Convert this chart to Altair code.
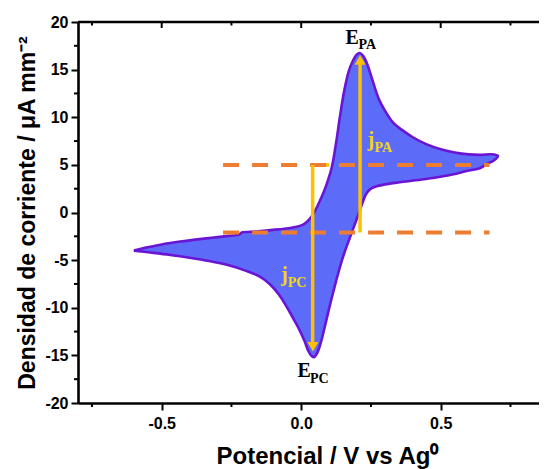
import altair as alt
import pandas as pd

# ---------------- data ----------------
# forward (anodic) scan, -0.6 V -> 0.7 V
fwd_v = [-0.600, -0.560, -0.500, -0.440, -0.380, -0.320, -0.260, -0.222, -0.214,
         -0.160, -0.110, -0.060, -0.020, 0.005, 0.020, 0.035, 0.050, 0.065, 0.080,
         0.095, 0.110, 0.125, 0.140, 0.155, 0.170, 0.185, 0.198, 0.210, 0.222,
         0.235, 0.250, 0.265, 0.280, 0.300, 0.330, 0.360, 0.400, 0.450, 0.500,
         0.550, 0.600, 0.645, 0.680, 0.705]
fwd_j = [-4.00, -3.70, -3.35, -3.08, -2.85, -2.65, -2.45, -2.32, -2.12,
         -2.00, -1.85, -1.70, -1.52, -1.30, -1.00, -0.50, 0.20, 1.10, 2.10,
         3.30, 4.80, 7.30, 10.30, 12.90, 14.80, 15.90, 16.55, 16.75, 16.45,
         15.70, 14.40, 13.00, 11.80, 10.70, 9.40, 8.70, 7.90, 7.15, 6.65,
         6.30, 6.10, 6.05, 6.12, 5.95]
# reverse (cathodic) scan, 0.7 V -> -0.6 V
rev_v = [0.690, 0.670, 0.640, 0.600, 0.520, 0.440, 0.360, 0.300, 0.265, 0.245,
         0.232, 0.222, 0.212, 0.200, 0.185, 0.170, 0.155, 0.140, 0.125, 0.110,
         0.095, 0.082, 0.070, 0.058, 0.045, 0.035, 0.025, 0.012, -0.005, -0.025,
         -0.050, -0.080, -0.115, -0.150, -0.200, -0.260, -0.330, -0.400, -0.470,
         -0.540, -0.600]
rev_j = [5.45, 5.15, 4.65, 4.40, 3.85, 3.50, 3.20, 2.95, 2.70, 2.40,
         1.90, 1.20, 0.40, -0.60, -1.80, -3.00, -4.20, -5.60, -7.20, -8.90,
         -10.70, -12.30, -13.70, -14.70, -15.20, -15.00, -14.50, -13.50, -12.40, -11.30,
         -10.00, -8.60, -7.45, -6.70, -6.10, -5.55, -5.10, -4.75, -4.45,
         -4.20, -4.00]

# dashed reference levels
dash_levels = [5.0, -2.1]
dash_from = [-0.28, -0.28]
dash_to = [0.675, 0.675]

# arrows (j_PC down, j_PA up)
arrow_v = [0.041, 0.211]
arrow_from = [5.0, -2.1]
arrow_to = [-13.8, 15.6]
head_v_up = [0.211]
head_j_up = [16.0]
head_v_down = [0.042]
head_j_down = [-14.1]
stub_v0 = [0.041]
stub_v1 = [0.100]
stub_j = [5.0]

# annotation texts (main letter and subscript)
e_main = ["E", "E"]
e_main_v = [0.159, -0.013]
e_main_j = [17.69, -17.30]
e_sub = ["PA", "PC"]
e_sub_v = [0.2054, 0.0315]
e_sub_j = [17.17, -17.93]
jl_main = ["j", "j"]
jl_main_v = [0.2375, -0.0724]
jl_main_j = [6.98, -7.19]
jl_sub = ["PA", "PC"]
jl_sub_v = [0.2627, -0.048]
jl_sub_j = [6.38, -7.79]

x_major = [-0.5, 0.0, 0.5]
x_minor = [-0.75, -0.25, 0.25, 0.75]
y_major = [-20, -15, -10, -5, 0, 5, 10, 15, 20]
y_minor = [-17.5, -12.5, -7.5, -2.5, 2.5, 7.5, 12.5, 17.5]

X_DOMAIN = [-0.8, 0.8523]
Y_DOMAIN = [-20, 20]

# ---------------- styles ----------------
FILL = "#5c6cf8"
PURPLE = "#6a14d4"
ORANGE = "#ED7D31"
GOLD = "#FFC000"
YELLOW = "#F4D80C"
SANS = "Liberation Sans"
SERIF = "Liberation Serif"

xs = alt.Scale(domain=X_DOMAIN, nice=False, zero=False)
ys = alt.Scale(domain=Y_DOMAIN, nice=False, zero=False)

minus_fix = "replace(datum.label, '\u2212', '-')"

xa = alt.Axis(
    values=x_major, format=".1f", labelExpr=minus_fix, grid=False,
    tickSize=7, tickWidth=2, tickColor="black", domainColor="black", domainWidth=2.6,
    labelFont=SANS, labelFontSize=16, labelFontWeight="bold", labelColor="black",
    labelPadding=5,
    title="Potencial / V vs Ag\u2070", titleFont=SANS, titleFontSize=24,
    titleFontWeight="bold", titleColor="black", titleX=249, titleY=60,
    titleAlign="center", titleBaseline="alphabetic")
ya = alt.Axis(
    values=y_major, labelExpr=minus_fix, grid=False,
    tickSize=7, tickWidth=2, tickColor="black", domainColor="black", domainWidth=2.6,
    labelFont=SANS, labelFontSize=16, labelFontWeight="bold", labelColor="black",
    labelPadding=3,
    title="Densidad de corriente / \u03bcA mm\u207b\u00b2", titleFont=SANS,
    titleFontSize=23, titleFontWeight="bold", titleColor="black",
    titleX=-44, titleY=190.5, titleAlign="center", titleBaseline="alphabetic",
    titleAngle=270)


def X(f):
    return alt.X(f, scale=xs, axis=xa)


def Y(f):
    return alt.Y(f, scale=ys, axis=ya)


loop_df = pd.DataFrame({
    "v": fwd_v + rev_v,
    "j": fwd_j + rev_j,
    "idx": list(range(len(fwd_v) + len(rev_v))),
})

loop = alt.Chart(loop_df).mark_line(
    fill=FILL, stroke=PURPLE, strokeWidth=2.6, interpolate="catmull-rom"
).encode(x=X("v:Q"), y=Y("j:Q"), order="idx:Q")

# frame: top line with inward ticks, minor ticks on left/bottom
top_df = pd.DataFrame({"v": [X_DOMAIN[0]], "v1": [X_DOMAIN[1]], "j": [Y_DOMAIN[1]]})
top_line = alt.Chart(top_df).mark_rule(color="black", strokeWidth=2.6).encode(
    x=X("v:Q"), x2="v1:Q", y=Y("j:Q"))
top_major = alt.Chart(pd.DataFrame({"v": x_major})).mark_rule(color="black", strokeWidth=2).encode(
    x=X("v:Q"), y=alt.value(0), y2=alt.value(6))
top_minor = alt.Chart(pd.DataFrame({"v": x_minor})).mark_rule(color="black", strokeWidth=2).encode(
    x=X("v:Q"), y=alt.value(0), y2=alt.value(3.5))
bot_minor = alt.Chart(pd.DataFrame({"v": x_minor})).mark_rule(color="black", strokeWidth=2).encode(
    x=X("v:Q"), y=alt.value(381), y2=alt.value(385))
left_minor = alt.Chart(pd.DataFrame({"j": y_minor})).mark_rule(color="black", strokeWidth=2).encode(
    y=Y("j:Q"), x=alt.value(0), x2=alt.value(-4))

stub = alt.Chart(pd.DataFrame({"v": stub_v0, "v1": stub_v1, "j": stub_j})).mark_rule(
    color=GOLD, strokeWidth=3.5).encode(x=X("v:Q"), x2="v1:Q", y=Y("j:Q"))

dashes = alt.Chart(pd.DataFrame({"v": dash_from, "v1": dash_to, "j": dash_levels})).mark_rule(
    color=ORANGE, strokeWidth=4, strokeDash=[16, 13]).encode(x=X("v:Q"), x2="v1:Q", y=Y("j:Q"))

arrows = alt.Chart(pd.DataFrame({"v": arrow_v, "j": arrow_from, "j1": arrow_to})).mark_rule(
    color=GOLD, strokeWidth=3.5).encode(x=X("v:Q"), y=Y("j:Q"), y2="j1:Q")
head_up = alt.Chart(pd.DataFrame({"v": head_v_up, "j": head_j_up})).mark_point(
    shape="triangle-up", filled=True, size=121, color=GOLD, opacity=1).encode(x=X("v:Q"), y=Y("j:Q"))
head_dn = alt.Chart(pd.DataFrame({"v": head_v_down, "j": head_j_down})).mark_point(
    shape="triangle-down", filled=True, size=121, color=GOLD, opacity=1).encode(x=X("v:Q"), y=Y("j:Q"))


def txt(texts, vs, js, size, color):
    return alt.Chart(pd.DataFrame({"t": texts, "v": vs, "j": js})).mark_text(
        font=SERIF, fontSize=size, fontWeight="bold", color=color,
        align="left", baseline="alphabetic").encode(x=X("v:Q"), y=Y("j:Q"), text="t:N")


e_main_t = txt(e_main, e_main_v, e_main_j, 20, "black")
e_sub_t = txt(e_sub, e_sub_v, e_sub_j, 14, "black")
j_main_t = txt(jl_main, jl_main_v, jl_main_j, 20, YELLOW)
j_sub_t = txt(jl_sub, jl_sub_v, jl_sub_j, 14, YELLOW)

chart = alt.layer(
    loop, stub, dashes, arrows, head_up, head_dn,
    top_line, top_major, top_minor, bot_minor, left_minor,
    e_main_t, e_sub_t, j_main_t, j_sub_t,
).properties(
    width=461, height=381,
    autosize=alt.AutoSizeParams(type="none"),
    padding={"left": 70, "top": 14, "right": 0, "bottom": 66},
    background="white",
).configure_view(stroke=None)

chart.save("out.html", embed_options={"renderer": "svg", "actions": False})
